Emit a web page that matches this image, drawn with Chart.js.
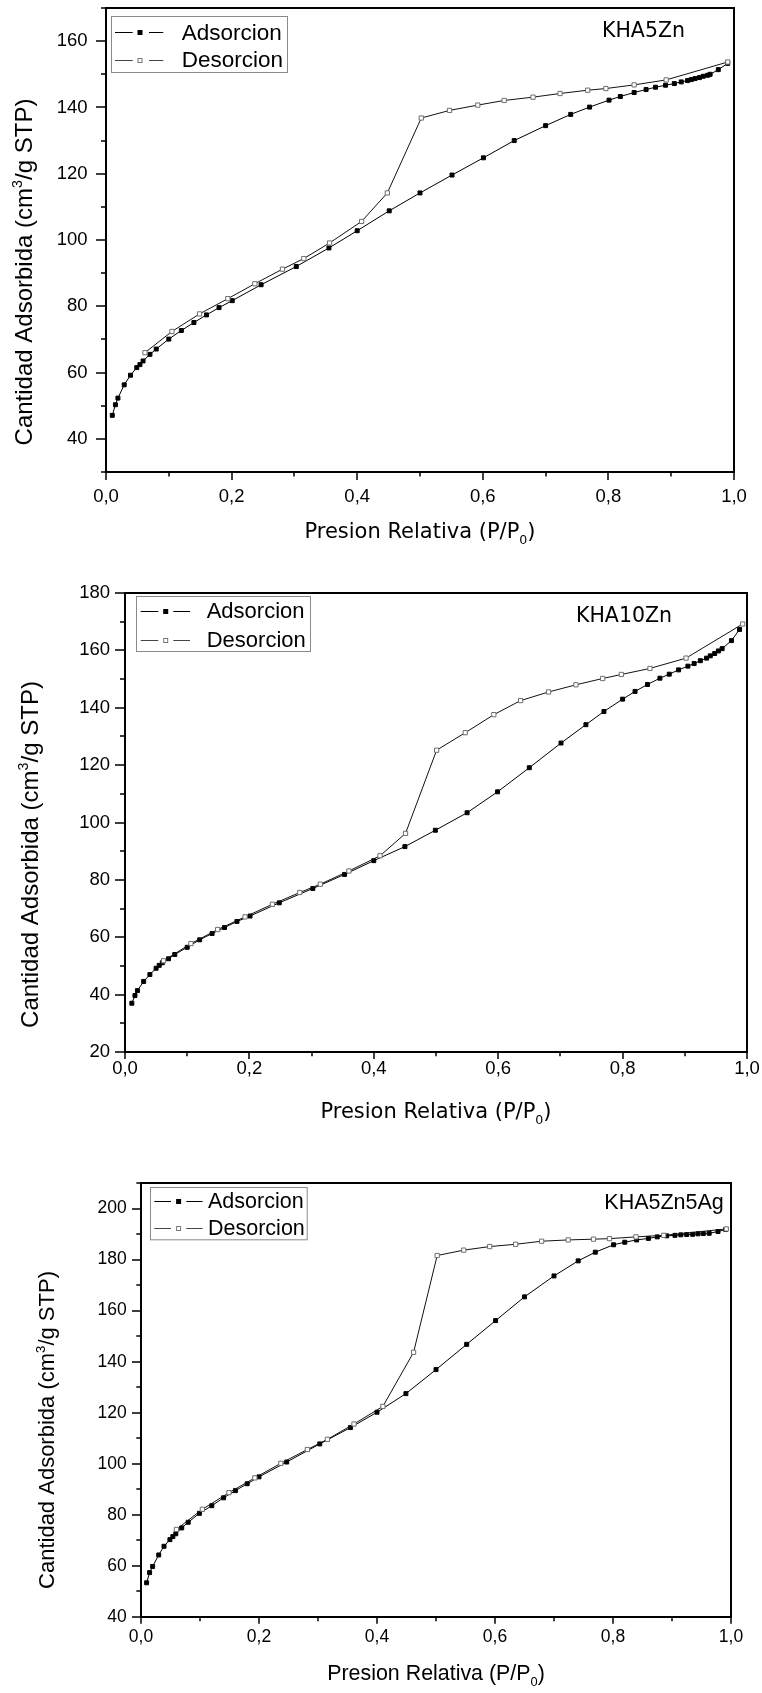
<!DOCTYPE html>
<html>
<head>
<meta charset="utf-8">
<script src="https://cdn.jsdelivr.net/npm/chart.js@4.4.1/dist/chart.umd.min.js"></script>
<style>
  html, body { margin: 0; padding: 0; background: #fff; width: 762px; height: 1693px; overflow: hidden; position: relative; }
  canvas { position: absolute; left: 0; }
</style>
</head>
<body>
<canvas id="c1" width="762" height="580" style="top:-20px"></canvas>
<canvas id="c2" width="762" height="580" style="top:560px"></canvas>
<canvas id="c3" width="762" height="553" style="top:1140px"></canvas>
<script>
// ---------- N2 isotherm data: relative pressure P/P0 and adsorbed volume (cm3/g STP) ----------

// KHA5Zn
const kha5znAdsP = [0.010, 0.015, 0.019, 0.029, 0.039, 0.049, 0.054, 0.059, 0.070, 0.080, 0.100, 0.120, 0.140, 0.160, 0.180, 0.201, 0.247, 0.303, 0.355, 0.400, 0.451, 0.500, 0.551, 0.601, 0.650, 0.700, 0.740, 0.770, 0.801, 0.819, 0.841, 0.860, 0.875, 0.891, 0.905, 0.916, 0.926, 0.932, 0.938, 0.945, 0.951, 0.958, 0.962, 0.975, 0.990];
const kha5znAdsV = [47.1, 50.3, 52.3, 56.3, 59.2, 61.5, 62.4, 63.5, 65.5, 67.1, 70.1, 72.7, 75.1, 77.4, 79.6, 81.7, 86.5, 92.0, 97.6, 102.8, 108.8, 114.2, 119.6, 124.8, 130.0, 134.5, 137.9, 140.1, 142.2, 143.3, 144.5, 145.4, 146.1, 146.7, 147.2, 147.7, 148.1, 148.4, 148.7, 149.0, 149.4, 149.7, 150.0, 151.4, 153.3];
const kha5znDesP = [0.990, 0.892, 0.841, 0.796, 0.767, 0.723, 0.680, 0.634, 0.592, 0.547, 0.502, 0.448, 0.407, 0.356, 0.315, 0.281, 0.237, 0.194, 0.149, 0.105, 0.062];
const kha5znDesV = [153.7, 148.3, 146.8, 145.7, 145.2, 144.2, 143.1, 142.1, 140.7, 139.1, 136.8, 114.2, 105.6, 99.1, 94.4, 91.2, 86.8, 82.3, 77.7, 72.4, 66.0];

// KHA10Zn
const kha10znAdsP = [0.011, 0.016, 0.020, 0.030, 0.040, 0.050, 0.055, 0.060, 0.070, 0.080, 0.100, 0.120, 0.140, 0.160, 0.180, 0.201, 0.248, 0.302, 0.353, 0.400, 0.450, 0.499, 0.550, 0.599, 0.650, 0.701, 0.741, 0.770, 0.800, 0.820, 0.840, 0.860, 0.875, 0.890, 0.905, 0.915, 0.925, 0.935, 0.941, 0.948, 0.954, 0.960, 0.975, 0.988];
const kha10znAdsV = [37.0, 39.7, 41.4, 44.6, 47.0, 49.2, 50.2, 51.1, 52.5, 54.0, 56.5, 59.1, 61.3, 63.4, 65.5, 67.4, 72.0, 77.0, 81.9, 86.7, 91.6, 97.3, 103.4, 110.7, 119.1, 127.7, 134.1, 138.7, 143.0, 145.7, 148.1, 150.3, 151.7, 153.2, 154.5, 155.4, 156.4, 157.3, 158.1, 158.9, 159.8, 160.6, 163.4, 167.3];
const kha10znDesP = [0.993, 0.902, 0.844, 0.798, 0.768, 0.725, 0.681, 0.636, 0.593, 0.547, 0.501, 0.451, 0.410, 0.360, 0.314, 0.281, 0.237, 0.193, 0.149, 0.106, 0.062];
const kha10znDesV = [169.2, 157.3, 153.7, 151.6, 150.2, 148.0, 145.5, 142.5, 137.6, 131.3, 125.2, 96.2, 88.4, 83.1, 78.5, 75.6, 71.5, 67.1, 62.7, 57.8, 51.8];

// KHA5Zn5Ag
const kha5zn5agAdsP = [0.0095, 0.0146, 0.0197, 0.030, 0.039, 0.049, 0.054, 0.059, 0.069, 0.080, 0.099, 0.120, 0.140, 0.160, 0.180, 0.200, 0.247, 0.303, 0.355, 0.400, 0.449, 0.500, 0.552, 0.601, 0.650, 0.700, 0.741, 0.770, 0.801, 0.820, 0.840, 0.860, 0.875, 0.891, 0.905, 0.915, 0.925, 0.935, 0.944, 0.953, 0.963, 0.978, 0.991];
const kha5zn5agAdsV = [53.4, 57.4, 59.8, 64.3, 67.7, 70.3, 71.5, 72.6, 74.9, 77.1, 80.6, 83.6, 86.7, 89.5, 92.2, 94.9, 100.7, 107.8, 114.2, 120.2, 127.5, 136.9, 146.8, 156.1, 165.4, 173.6, 179.5, 182.9, 185.8, 186.8, 187.7, 188.3, 188.9, 189.3, 189.5, 189.7, 189.8, 189.9, 190.1, 190.2, 190.3, 191.0, 191.8];
const kha5zn5agDesP = [0.992, 0.886, 0.839, 0.794, 0.767, 0.724, 0.679, 0.635, 0.591, 0.547, 0.502, 0.462, 0.410, 0.361, 0.316, 0.282, 0.237, 0.193, 0.149, 0.104, 0.060];
const kha5zn5agDesV = [192.0, 189.5, 188.9, 188.2, 188.0, 187.7, 187.2, 186.0, 185.1, 183.7, 181.6, 143.7, 122.5, 115.6, 109.6, 105.6, 100.2, 94.5, 88.7, 82.2, 74.3];

// Series names, sample names and tick values
const seriesNames = ['Adsorcion', 'Desorcion'];
const sampleNames = ['KHA5Zn', 'KHA10Zn', 'KHA5Zn5Ag'];
const xMajorTicks = [0, 0.2, 0.4, 0.6, 0.8, 1.0];
const xMinorTicks = [0.1, 0.3, 0.5, 0.7, 0.9];
const yMajorTicks1 = [40, 60, 80, 100, 120, 140, 160];
const yMinorTicks1 = [30, 50, 70, 90, 110, 130, 150, 170];
const yMajorTicks2 = [20, 40, 60, 80, 100, 120, 140, 160, 180];
const yMinorTicks2 = [30, 50, 70, 90, 110, 130, 150, 170];
const yMajorTicks3 = [40, 60, 80, 100, 120, 140, 160, 180, 200];
const yMinorTicks3 = [50, 70, 90, 110, 130, 150, 170, 190, 210];
const yTitleParts = [{ t: 'Cantidad Adsorbida (cm' }, { t: '3', sup: true }, { t: '/g STP)' }];
const xTitleParts = [{ t: 'Presion Relativa (P/P' }, { t: '0', sub: true }, { t: ')' }];

// ---------- helpers ----------
const ARIAL = "'Liberation Sans', Arial, sans-serif";
const VERDANA = "'DejaVu Sans', Verdana, sans-serif";

function pts(xs, ys) { return xs.map((x, i) => ({ x: x, y: ys[i] })); }

function drawRich(ctx, parts, cx, cy, size, family, rotate) {
  ctx.save();
  ctx.translate(cx, cy);
  if (rotate) ctx.rotate(-Math.PI / 2);
  let total = 0;
  const items = parts.map(p => {
    const fs = (p.sub || p.sup) ? size * 0.6 : size;
    ctx.font = fs + 'px ' + family;
    const w = ctx.measureText(p.t).width;
    total += w;
    return { p, fs, w };
  });
  let x = -total / 2;
  ctx.textAlign = 'left';
  ctx.textBaseline = 'alphabetic';
  ctx.fillStyle = '#000';
  const base = size * 0.35;
  for (const it of items) {
    ctx.font = it.fs + 'px ' + family;
    let dy = base;
    if (it.p.sub) dy += size * 0.25;
    if (it.p.sup) dy -= size * 0.42;
    ctx.fillText(it.p.t, x, dy);
    x += it.w;
  }
  ctx.restore();
}

function drawMarker(ctx, x, y, filled) {
  ctx.save();
  if (filled) {
    ctx.fillStyle = '#000';
    ctx.fillRect(x - 2.5, y - 2.5, 5, 5);
  } else {
    ctx.fillStyle = '#fff';
    ctx.strokeStyle = '#777';
    ctx.lineWidth = 1;
    ctx.fillRect(x - 2, y - 2, 4, 4);
    ctx.strokeRect(x - 2, y - 2, 4, 4);
  }
  ctx.restore();
}

// Frame, outward major/minor ticks, axis titles, legend box and sample label
const decorPlugin = {
  id: 'decor',
  afterDatasetsDraw(chart, args, o) {
    const { ctx, chartArea: a, scales: { x, y } } = chart;
    ctx.save();
    ctx.strokeStyle = '#000';
    ctx.lineWidth = 1.5;
    ctx.beginPath();
    o.xMajor.forEach(v => { const px = Math.round(x.getPixelForValue(v)); ctx.moveTo(px, a.bottom); ctx.lineTo(px, a.bottom + o.xMajorLen); });
    o.xMinor.forEach(v => { const px = Math.round(x.getPixelForValue(v)); ctx.moveTo(px, a.bottom); ctx.lineTo(px, a.bottom + o.xMinorLen); });
    o.yMajor.forEach(v => { const py = Math.round(y.getPixelForValue(v)); ctx.moveTo(a.left, py); ctx.lineTo(a.left - o.yMajorLen, py); });
    o.yMinor.forEach(v => { const py = Math.round(y.getPixelForValue(v)); ctx.moveTo(a.left, py); ctx.lineTo(a.left - o.yMinorLen, py); });
    ctx.stroke();
    ctx.lineWidth = 2;
    ctx.strokeRect(a.left, a.top, a.right - a.left, a.bottom - a.top);

    // axis titles
    drawRich(ctx, xTitleParts, (a.left + a.right) / 2 + o.xTitleDx, a.bottom + o.xTitleDy, o.xTitleSize, o.xTitleFamily, false);
    drawRich(ctx, yTitleParts, o.yTitleX, (a.top + a.bottom) / 2 + o.yTitleDy, o.yTitleSize, ARIAL, true);

    // sample label
    ctx.fillStyle = '#000';
    ctx.textAlign = 'left';
    ctx.textBaseline = 'alphabetic';
    ctx.font = o.labelSize + 'px ' + o.labelFamily;
    ctx.fillText(o.label, a.left + o.labelDx, a.top + o.labelDy);

    // legend
    const L = o.legend;
    const bx = a.left + L.dx, by = a.top + L.dy;
    ctx.strokeStyle = '#8a8a8a';
    ctx.lineWidth = 1;
    ctx.strokeRect(Math.round(bx) + 0.5, Math.round(by) + 0.5, L.w, L.h);
    seriesNames.forEach((name, i) => {
      const ry = by + L.rows[i];
      ctx.strokeStyle = i === 0 ? '#000' : '#444';
      ctx.lineWidth = 1;
      ctx.beginPath();
      ctx.moveTo(bx + L.seg1[0], Math.round(ry) + 0.5); ctx.lineTo(bx + L.seg1[1], Math.round(ry) + 0.5);
      ctx.moveTo(bx + L.seg2[0], Math.round(ry) + 0.5); ctx.lineTo(bx + L.seg2[1], Math.round(ry) + 0.5);
      ctx.stroke();
      drawMarker(ctx, bx + L.mark, Math.round(ry) + 0.5, i === 0);
      ctx.fillStyle = '#000';
      ctx.font = L.size + 'px ' + ARIAL;
      ctx.textBaseline = 'middle';
      ctx.fillText(name, bx + L.text, ry + 1);
    });
    ctx.restore();
  }
};

function makeChart(id, ads, des, g) {
  const ctx = document.getElementById(id).getContext('2d');
  return new Chart(ctx, {
    type: 'scatter',
    data: {
      datasets: [
        {
          label: seriesNames[1], data: des, showLine: true,
          borderColor: '#111', borderWidth: 1, tension: 0,
          pointStyle: 'rect', pointRadius: 3, pointBackgroundColor: '#fff', pointBorderColor: '#6e6e6e', pointBorderWidth: 1
        },
        {
          label: seriesNames[0], data: ads, showLine: true,
          borderColor: '#000', borderWidth: 1, tension: 0,
          pointStyle: 'rect', pointRadius: 2.8, pointBackgroundColor: '#000', pointBorderColor: '#000', pointBorderWidth: 1
        }
      ]
    },
    options: {
      responsive: false,
      animation: false,
      devicePixelRatio: 1,
      layout: { padding: { left: 0, top: g.padTop, right: g.padRight, bottom: g.padBottom } },
      plugins: {
        legend: { display: false },
        tooltip: { enabled: false },
        decor: g.decor
      },
      scales: {
        x: {
          type: 'linear', min: 0, max: 1,
          grid: { display: false, drawTicks: false, tickLength: 0 },
          border: { display: false },
          afterBuildTicks: s => { s.ticks = xMajorTicks.map(v => ({ value: v })); },
          afterFit: s => { s.height = g.xH; s.paddingLeft = 0; s.paddingRight = 0; },
          ticks: {
            padding: g.xTickPad, color: '#000', maxRotation: 0, autoSkip: false,
            font: { family: ARIAL, size: g.tickSize },
            callback: v => v.toFixed(1).replace('.', ',')
          }
        },
        y: {
          type: 'linear', min: g.yMin, max: g.yMax,
          grid: { display: false, drawTicks: false, tickLength: 0 },
          border: { display: false },
          afterBuildTicks: s => { s.ticks = g.yMajor.map(v => ({ value: v })); },
          afterFit: s => { s.width = g.yW; s.paddingTop = 0; s.paddingBottom = 0; },
          ticks: {
            padding: g.yTickPad, color: '#000', autoSkip: false,
            font: { family: ARIAL, size: g.tickSize },
            callback: v => String(v)
          }
        }
      }
    },
    plugins: [decorPlugin]
  });
}

makeChart('c1', pts(kha5znAdsP, kha5znAdsV), pts(kha5znDesP, kha5znDesV), {
  padTop: 28, padRight: 28, padBottom: 13, xH: 75, yW: 106,
  yMin: 30, yMax: 170, yMajor: yMajorTicks1, tickSize: 18.5, xTickPad: 14, yTickPad: 18.5,
  decor: {
    xMajor: xMajorTicks, xMinor: xMinorTicks, yMajor: yMajorTicks1, yMinor: yMinorTicks1,
    xMajorLen: 8, xMinorLen: 4.5, yMajorLen: 10, yMinorLen: 5,
    xTitleDx: 0, xTitleDy: 59, xTitleSize: 21, xTitleFamily: VERDANA,
    yTitleX: 23.5, yTitleDy: 32, yTitleSize: 24,
    label: sampleNames[0], labelSize: 20.5, labelFamily: VERDANA, labelDx: 496, labelDy: 29.3,
    legend: { dx: 4.7, dy: 8, w: 176, h: 56, rows: [16.3, 44], seg1: [4.3, 22], mark: 29.3, seg2: [38.3, 52.6], text: 71, size: 22.5 }
  }
});

makeChart('c2', pts(kha10znAdsP, kha10znAdsV), pts(kha10znDesP, kha10znDesV), {
  padTop: 33, padRight: 15, padBottom: 13, xH: 75, yW: 125,
  yMin: 20, yMax: 180, yMajor: yMajorTicks2, tickSize: 18.5, xTickPad: 6, yTickPad: 15,
  decor: {
    xMajor: xMajorTicks, xMinor: xMinorTicks, yMajor: yMajorTicks2, yMinor: yMinorTicks2,
    xMajorLen: 7, xMinorLen: 4.3, yMajorLen: 10, yMinorLen: 5,
    xTitleDx: 0, xTitleDy: 59, xTitleSize: 21, xTitleFamily: VERDANA,
    yTitleX: 30, yTitleDy: 32, yTitleSize: 24,
    label: sampleNames[1], labelSize: 20.5, labelFamily: VERDANA, labelDx: 451, labelDy: 28.7,
    legend: { dx: 11, dy: 3.4, w: 174, h: 55, rows: [15, 43.3], seg1: [4.7, 22.3], mark: 29.7, seg2: [37.3, 54], text: 70.7, size: 22 }
  }
});

makeChart('c3', pts(kha5zn5agAdsP, kha5zn5agAdsV), pts(kha5zn5agDesP, kha5zn5agDesV), {
  padTop: 43, padRight: 31, padBottom: 6, xH: 70, yW: 141,
  yMin: 40, yMax: 210, yMajor: yMajorTicks3, tickSize: 17.5, xTickPad: 10, yTickPad: 14.3,
  decor: {
    xMajor: xMajorTicks, xMinor: xMinorTicks, yMajor: yMajorTicks3, yMinor: yMinorTicks3,
    xMajorLen: 6.7, xMinorLen: 4.3, yMajorLen: 9, yMinorLen: 4.7,
    xTitleDx: 0, xTitleDy: 56, xTitleSize: 21.4, xTitleFamily: ARIAL,
    yTitleX: 46.7, yTitleDy: 30, yTitleSize: 22,
    label: sampleNames[2], labelSize: 21.5, labelFamily: ARIAL, labelDx: 463.3, labelDy: 26,
    legend: { dx: 9.3, dy: 4, w: 156.7, h: 52.3, rows: [14.3, 40.6], seg1: [4, 20.7], mark: 28.3, seg2: [36, 52.3], text: 57.7, size: 21.5 }
  }
});
</script>
</body>
</html>
